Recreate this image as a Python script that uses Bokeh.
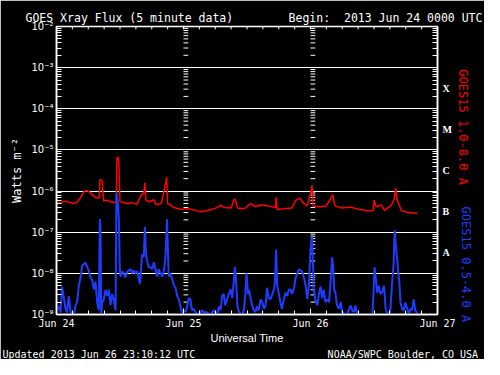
from bokeh.plotting import figure
from bokeh.models import (Range1d, FixedTicker, LogAxis, CustomJSTickFormatter, Title)
from bokeh.embed import file_html
from bokeh.resources import INLINE

# ---------------- data ----------------
day_labels = ["Jun 24", "Jun 25", "Jun 26", "Jun 27"]
day_hours = [0, 24, 48, 72]
decade_exponents = [-9, -8, -7, -6, -5, -4, -3, -2]
minor_mantissas = [2, 3, 4, 5, 6, 7, 8, 9]
hour_minor_step = 3

class_letters = ["A", "B", "C", "M", "X"]
class_floor_exp = [-8, -7, -6, -5, -4]

header_title = "GOES Xray Flux (5 minute data)"
header_begin = "Begin:\u00a0 2013 Jun 24 0000 UTC"
footer_updated = "Updated 2013 Jun 26 23:10:12 UTC"
footer_source = "NOAA/SWPC Boulder, CO USA"
long_name = "GOES15 1.0-8.0 A"
short_name = "GOES15 0.5-4.0 A"

# GOES15 1.0-8.0 A (long channel), hours since 2013-06-24 00:00 UTC, log10(W m^-2)
long_hours = [0.1, 1.0, 1.4, 2.6, 3.3, 3.9, 4.6, 5.2, 6.0, 6.4, 7.0, 7.7, 8.1, 8.2,
              8.6, 8.9, 9.5, 10.2, 11.0, 11.3, 11.4, 11.7, 11.8, 12.0, 12.7, 13.4,
              14.2, 15.2, 16.0, 16.5, 16.7, 16.9, 17.5, 18.4, 18.8, 19.8, 20.6, 20.8,
              21.0, 22.2, 23.4, 25.0, 27.2, 28.5, 30.0, 31.0, 31.8, 33.0, 33.5, 33.8,
              34.2, 35.5, 36.7, 37.5, 38.6, 40.0, 41.4, 41.5, 41.7, 43.0, 44.5, 45.2,
              46.0, 46.7, 47.4, 48.0, 48.3, 48.5, 49.6, 51.0, 52.2, 52.6, 54.0, 55.6,
              57.0, 58.7, 59.9, 60.0, 60.4, 61.4, 62.0, 63.3, 63.8, 64.1, 64.3, 65.2,
              66.4, 68.2]
long_log10 = [-6.30, -6.27, -6.25, -6.28, -6.30, -6.27, -6.15, -6.00, -6.00, -6.05,
              -6.12, -6.17, -6.17, -5.72, -5.74, -6.24, -6.22, -6.26, -6.28, -6.26,
              -5.19, -5.19, -5.43, -6.26, -6.28, -6.30, -6.28, -6.32, -6.10, -6.05,
              -5.80, -6.22, -6.26, -6.21, -6.33, -6.30, -5.82, -5.66, -6.30, -6.40,
              -6.44, -6.43, -6.50, -6.47, -6.42, -6.35, -6.40, -6.41, -6.21, -6.21,
              -6.41, -6.43, -6.30, -6.38, -6.34, -6.36, -6.40, -6.15, -6.44, -6.43,
              -6.41, -6.22, -6.17, -6.30, -6.36, -6.05, -5.86, -6.36, -6.38, -6.36,
              -6.09, -6.36, -6.41, -6.39, -6.44, -6.48, -6.47, -6.22, -6.38, -6.34,
              -6.47, -6.34, -6.20, -5.93, -6.19, -6.48, -6.52, -6.54]

# GOES15 0.5-4.0 A (short channel)
short_hours = [0.13, 0.44, 0.76, 1.07, 1.39, 1.70, 2.0, 2.33, 2.65, 3.28, 3.59, 3.9,
               4.2, 4.54, 4.85, 5.17, 5.48, 5.8, 6.1, 6.43, 6.74, 7.06, 7.37, 7.69,
               8.0, 8.19, 8.32, 8.44, 8.63, 8.95, 9.26, 9.58, 9.9, 10.2, 10.5, 10.8,
               11.15, 11.34, 11.6, 11.78, 11.97, 12.1, 12.4, 12.7, 13.0, 13.4, 13.7,
               14.0, 14.3, 14.6, 14.9, 15.3, 15.6, 15.8, 16.0, 16.2, 16.5, 16.7, 16.9,
               17.1, 17.4, 17.8, 18.1, 18.4, 18.7, 19.0, 19.3, 19.7, 20.0, 20.3, 20.6,
               20.9, 21.0, 21.2, 21.5, 21.9, 22.2, 22.5, 22.8, 23.1, 23.4, 23.8, 24.1,
               24.4, 24.7, 25.0, 25.3, 25.6, 25.9, 26.3, 26.9, 27.5, 27.8, 28.5, 29.1,
               29.7, 30.4, 30.7, 31.0, 31.3, 31.6, 31.9, 32.3, 32.6, 32.9, 33.2, 33.5,
               33.7, 33.9, 34.2, 34.5, 34.8, 35.1, 35.4, 35.7, 35.9, 36.2, 36.4, 36.7,
               37.0, 37.3, 37.6, 37.9, 38.2, 38.6, 38.9, 39.2, 39.5, 39.8, 40.1, 40.4,
               40.8, 41.1, 41.3, 41.5, 41.7, 42.0, 42.3, 42.6, 43.0, 43.3, 43.6, 43.9,
               44.2, 44.5, 44.9, 45.2, 45.5, 45.8, 46.1, 46.4, 46.7, 47.1, 47.4, 47.7,
               48.0, 48.3, 48.5, 48.6, 48.9, 49.3, 49.6, 49.9, 50.2, 50.5, 50.8, 51.2,
               51.5, 51.8, 52.1, 52.3, 52.5, 52.7, 53.0, 53.4, 53.7, 54.0, 54.3, 54.6,
               54.9, 55.3, 55.6, 55.9, 56.2, 56.5, 56.8, 57.1, 57.5, 58.1, 58.7, 59.3,
               59.7, 59.9, 60.1, 60.4, 60.6, 60.9, 61.2, 61.5, 61.9, 62.2, 62.5, 62.8,
               63.1, 63.4, 63.7, 63.9, 64.1, 64.4, 64.6, 64.8, 65.0, 65.3, 65.6, 65.9,
               66.3, 66.6, 66.9, 67.2, 67.5, 67.8, 68.2]
short_log10 = [-8.90, -8.80, -8.95, -8.32, -8.60, -8.86, -8.95, -8.55, -8.94, -9.00,
               -8.78, -8.70, -8.32, -8.10, -7.81, -7.78, -7.73, -7.85, -7.93, -8.10,
               -8.16, -8.39, -8.20, -8.71, -8.90, -6.68, -6.90, -9.00, -8.70, -8.63,
               -8.40, -8.55, -8.40, -8.78, -8.50, -8.63, -8.90, -6.05, -6.30, -6.68,
               -7.90, -8.08, -7.95, -8.00, -8.10, -7.95, -7.93, -7.89, -8.00, -7.93,
               -8.00, -7.95, -8.16, -8.25, -7.85, -7.53, -7.60, -6.87, -7.50, -7.69,
               -7.85, -7.85, -7.90, -7.73, -7.90, -8.08, -7.90, -8.00, -8.08, -7.93,
               -7.60, -6.68, -7.20, -8.08, -8.00, -8.16, -8.30, -8.35, -8.55, -8.63,
               -8.80, -8.98, -8.90, -8.94, -8.80, -8.60, -8.63, -8.90, -8.86, -8.95,
               -9.02, -8.90, -8.94, -8.95, -9.02, -8.90, -8.98, -8.80, -8.90, -8.55,
               -8.50, -8.78, -8.60, -8.50, -8.39, -8.60, -8.20, -7.85, -8.10, -8.80,
               -8.94, -8.98, -9.02, -8.90, -8.50, -8.00, -8.50, -8.40, -8.63, -8.78,
               -8.90, -8.94, -8.80, -8.90, -8.63, -8.70, -8.86, -8.78, -8.35, -8.60,
               -8.63, -8.50, -8.39, -8.20, -7.42, -8.30, -8.47, -8.70, -8.86, -8.60,
               -8.47, -8.55, -8.40, -8.39, -8.50, -8.35, -8.10, -8.00, -7.90, -7.93,
               -7.95, -8.08, -8.30, -8.63, -8.30, -7.42, -7.11, -7.90, -8.39, -8.63,
               -8.78, -8.50, -8.32, -8.60, -8.40, -8.70, -8.63, -8.70, -8.20, -7.61,
               -7.90, -8.40, -8.47, -8.78, -8.86, -8.70, -8.94, -8.98, -8.98, -9.00,
               -8.86, -8.78, -8.90, -8.94, -8.78, -8.98, -9.00, -9.02, -9.03, -9.03,
               -9.02, -8.98, -8.50, -7.85, -8.20, -8.47, -8.30, -8.50, -8.47, -8.30,
               -8.86, -8.98, -9.02, -8.90, -8.24, -7.80, -6.95, -7.30, -7.69, -8.00,
               -8.24, -8.70, -8.86, -8.90, -8.71, -8.86, -8.98, -8.86, -8.90, -8.63,
               -8.90, -8.98]

long_flux = [10 ** v for v in long_log10]
short_flux = [10 ** v for v in short_log10]
decades = [10.0 ** e for e in decade_exponents]
minor_vals = [m * 10.0 ** e for e in decade_exponents[:-1] for m in minor_mantissas]
hour_minor = list(range(0, day_hours[-1] + 1, hour_minor_step))
class_mid = [10.0 ** (e + 0.5) for e in class_floor_exp]

RED = "#ff0000"
BLUE = "#1e3cff"
MONO = "DejaVu Sans Mono"
NB = "\u00a0"

p = figure(width=484, height=359, output_backend="svg", toolbar_location=None,
           x_range=Range1d(day_hours[0], day_hours[-1]),
           y_range=Range1d(decades[0], decades[-1]), y_axis_type="log",
           background_fill_color="black", border_fill_color="black",
           min_border_left=56, min_border_right=47, min_border_top=26,
           min_border_bottom=40)
p.outline_line_color = "white"
p.outline_line_width = 1.5

# header (single title line, two parts)
p.title.text = header_title + NB * 8 + header_begin
p.title.align = "left"
p.title.offset = -31
p.title.standoff = 4
p.title.text_color = "white"
p.title.text_font = MONO
p.title.text_font_size = "11.5px"
p.title.text_font_style = "normal"

xticker = FixedTicker(ticks=day_hours, minor_ticks=hour_minor)
yticker = FixedTicker(ticks=decades, minor_ticks=minor_vals)

exp_fmt = CustomJSTickFormatter(code="""
const e = Math.round(Math.log10(tick));
const sup = {'-':'\u207b','0':'\u2070','1':'\u00b9','2':'\u00b2','3':'\u00b3','4':'\u2074',
             '5':'\u2075','6':'\u2076','7':'\u2077','8':'\u2078','9':'\u2079'};
return '10' + String(e).split('').map(c => sup[c]).join('');
""")
day_fmt = CustomJSTickFormatter(args=dict(labels=day_labels), code="""
const i = Math.round(tick / 24);
return (i >= 0 && i < labels.length) ? labels[i] : '';
""")
letter_fmt = CustomJSTickFormatter(args=dict(letters=class_letters, exps=class_floor_exp), code="""
const k = Math.round(Math.log10(tick) - 0.5);
const i = exps.indexOf(k);
return i >= 0 ? letters[i] : '';
""")

def style_axis(ax, major_in, minor_in):
    ax.axis_line_color = "white"
    ax.axis_line_width = 1.5
    ax.major_tick_line_color = "white"
    ax.minor_tick_line_color = "white"
    ax.major_tick_in = major_in
    ax.major_tick_out = 0
    ax.minor_tick_in = minor_in
    ax.minor_tick_out = 0
    ax.major_label_text_color = "white"

# bottom axis
xb = p.xaxis[0]
xb.ticker = xticker
xb.formatter = day_fmt
style_axis(xb, 6, 4)
xb.major_label_text_font = MONO
xb.major_label_text_font_size = "10px"
xb.major_label_standoff = 3
xb.axis_label = "Universal Time"
xb.axis_label_text_color = "white"
xb.axis_label_text_font = "Liberation Sans"
xb.axis_label_text_font_size = "11px"
xb.axis_label_text_font_style = "normal"
xb.axis_label_standoff = 0

# footer line below the axis
footer = Title(text=footer_updated + NB * 22 + footer_source, align="left", offset=-54,
               standoff=0, text_color="white", text_font=MONO, text_font_size="10px",
               text_font_style="normal")
p.add_layout(footer, "below")

# left axis
yl = p.yaxis[0]
yl.ticker = yticker
yl.formatter = exp_fmt
style_axis(yl, 0, 5)
yl.major_label_text_font = "DejaVu Sans"
yl.major_label_text_font_size = "10px"
yl.major_label_standoff = 3
yl.axis_label = "Watts m\u207b\u00b2"
yl.axis_label_text_color = "white"
yl.axis_label_text_font = MONO
yl.axis_label_text_font_size = "12px"
yl.axis_label_text_font_style = "normal"
yl.axis_label_standoff = 4

# right axis: ticks + GOES class letters
yr = LogAxis(ticker=FixedTicker(ticks=class_mid, minor_ticks=minor_vals),
             formatter=letter_fmt)
style_axis(yr, 0, 5)
yr.major_label_text_font = "Liberation Serif"
yr.major_label_text_font_style = "bold"
yr.major_label_text_font_size = "10px"
yr.major_label_standoff = 5
p.add_layout(yr, "right")

# right-side channel names (label-only axes sharing one column;
# non-breaking-space padding moves each name into its half of the axis)
def name_axis(text, color, standoff):
    ax = LogAxis(ticker=FixedTicker(ticks=[]))
    ax.axis_line_color = None
    ax.axis_label = text
    ax.axis_label_text_color = color
    ax.axis_label_text_font = MONO
    ax.axis_label_text_font_size = "12px"
    ax.axis_label_text_font_style = "normal"
    ax.axis_label_standoff = standoff
    p.add_layout(ax, "right")
    return ax

name_axis(long_name + NB * 12, RED, 1)
name_axis(NB * 26 + short_name, BLUE, -14)

p.xgrid.visible = False
p.ygrid.ticker = FixedTicker(ticks=decades)
p.ygrid.grid_line_color = "white"
p.ygrid.grid_line_width = 1

# tick marks along the top edge (every 3 h)
top_tick_decades = 0.07
top_y0 = decades[-1]
top_y1 = 10 ** (decade_exponents[-1] - top_tick_decades)
p.segment(x0=hour_minor, x1=hour_minor, y0=[top_y0] * len(hour_minor),
          y1=[top_y1] * len(hour_minor), line_color="white", line_width=1)

# minor y ticks repeated at inner day boundaries
inner_days = day_hours[1:-1]
tick_len_h = 0.9
sx0, sx1, sy = [], [], []
for d in inner_days:
    for v in minor_vals:
        sx0.append(d)
        sx1.append(d + tick_len_h)
        sy.append(v)
p.segment(x0=sx0, y0=sy, x1=sx1, y1=sy, line_color="white", line_width=1)

# data
p.line(long_hours, long_flux, line_color=RED, line_width=1.5)
p.line(short_hours, short_flux, line_color=BLUE, line_width=2)

open("out.html", "w").write(file_html(p, INLINE))
